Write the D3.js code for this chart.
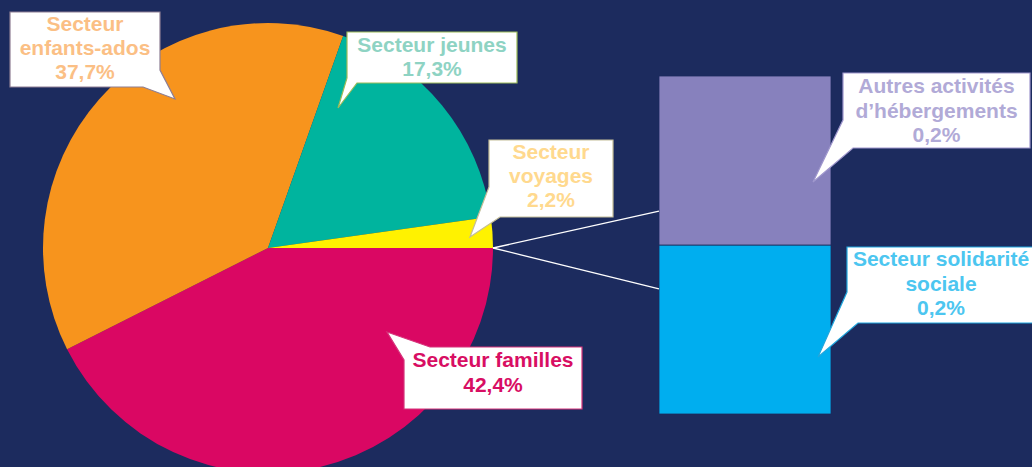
<!DOCTYPE html>
<html>
<head>
<meta charset="utf-8">
<script src="https://cdn.jsdelivr.net/npm/d3@7"></script>
<style>
  html, body { margin: 0; padding: 0; background: #1C2B5E; }
  svg { display: block; }
  text { font-family: "Liberation Sans", Arial, sans-serif; font-weight: bold; font-size: 21px; }
</style>
</head>
<body>
<svg id="chart" width="1032" height="467"></svg>
<script>
// ---- data ----
const pieCategories = ["Secteur familles", "Secteur enfants-ados", "Secteur jeunes", "Secteur voyages"];
const pieValues = [42.4, 37.7, 17.3, 2.2];
const barCategories = ["Secteur solidarité sociale", "Autres activités d’hébergements"];
const barValues = [0.2, 0.2];
const pieLabelLines = [["Secteur familles"], ["Secteur", "enfants-ados"], ["Secteur jeunes"], ["Secteur", "voyages"]];
const barLabelLines = [["Secteur solidarité", "sociale"], ["Autres activités", "d’hébergements"]];

// ---- styles ----
const pieColors = ["#DA0763", "#F7941D", "#00B49E", "#FFF200"];
const pieTextColors = ["#D80E63", "#FBBF85", "#8ED3C3", "#FFD98E"];
const pieBorderColors = ["#D6337A", "#8E7E93", "#9BBB59", "#C4BD97"];
const barColors = ["#00AEEF", "#8781BD"];
const barTextColors = ["#4CC6F0", "#B1AAD7"];
const barBorderColors = ["#1FA6DD", "#9F97CD"];

// ---- layout ----
const cx = 268, cy = 248, R = 225;
const barX0 = 659, barX1 = 831, barTop = 76, barBottom = 414;
const connFrac = [0.4, 0.63];

const fmt = v => d3.format(".1f")(v).replace(".", ",") + "%";

const svg = d3.select("#chart");
svg.append("rect").attr("width", 1032).attr("height", 467).attr("fill", "#1C2B5E");

// pie
const pie = d3.pie().sort(null).startAngle(Math.PI / 2).endAngle(Math.PI / 2 + 2 * Math.PI);
const arcs = pie(pieValues);
const arc = d3.arc().innerRadius(0).outerRadius(R);
const g = svg.append("g").attr("transform", `translate(${cx},${cy})`);
g.selectAll("path").data(arcs).join("path")
  .attr("d", arc)
  .attr("fill", (d, i) => pieColors[i]);

// bar (stacked)
const y = d3.scaleLinear().domain([0, d3.sum(barValues)]).range([barBottom, barTop]);
const stack = [];
let acc = 0;
barValues.forEach((v, i) => { stack.push({ v0: acc, v1: acc + v, i }); acc += v; });
svg.selectAll("rect.bar").data(stack).join("rect")
  .attr("class", "bar")
  .attr("x", barX0)
  .attr("width", barX1 - barX0)
  .attr("y", d => y(d.v1))
  .attr("height", d => y(d.v0) - y(d.v1))
  .attr("fill", d => barColors[d.i])
  .attr("stroke", "#1C2B5E").attr("stroke-width", 0.8);

// connector lines
const rim = [cx + R * Math.sin(Math.PI / 2), cy - R * Math.cos(Math.PI / 2)];
connFrac.forEach(f => {
  svg.append("line")
    .attr("x1", rim[0]).attr("y1", rim[1])
    .attr("x2", barX0).attr("y2", barTop + f * (barBottom - barTop))
    .attr("stroke", "#FFFFFF").attr("stroke-width", 1.3);
});

// callouts
function callout(o) {
  const { x0, y0, x1, y1, corner, pa, pb, tip } = o;
  let pts;
  if (corner === "br") {
    pts = [[x0, y0], [x1, y0], [x1, pb], tip, [pa, y1], [x0, y1]];
  } else if (corner === "bl") {
    pts = [[x0, y0], [x1, y0], [x1, y1], [pb, y1], tip, [x0, pa]];
  } else { // tl
    pts = [[pa, y0], [x1, y0], [x1, y1], [x0, y1], [x0, pb], tip];
  }
  svg.append("path")
    .attr("d", d3.line()(pts) + "Z")
    .attr("fill", "#FFFFFF")
    .attr("stroke", o.border).attr("stroke-width", 1.2);
  const t = svg.append("text").attr("text-anchor", "middle").attr("fill", o.color);
  o.lines.forEach((l, k) => {
    t.append("tspan").attr("x", (x0 + x1) / 2).attr("y", o.base + k * o.lh).text(l);
  });
}

const pieCallouts = [
  { x0: 404, y0: 347, x1: 582, y1: 409, corner: "tl", pa: 430, pb: 360, tip: [387, 332], base: 367, lh: 25 },
  { x0: 10, y0: 12, x1: 160, y1: 87, corner: "br", pa: 143, pb: 70, tip: [175, 99], base: 31, lh: 24 },
  { x0: 347, y0: 32, x1: 517, y1: 83, corner: "bl", pa: 78, pb: 357, tip: [338, 108], base: 52, lh: 24 },
  { x0: 489, y0: 140, x1: 613, y1: 217, corner: "bl", pa: 187, pb: 500, tip: [470, 237], base: 159, lh: 24 }
];
pieCallouts.forEach((c, i) => {
  callout(Object.assign({}, c, {
    lines: pieLabelLines[i].concat([fmt(pieValues[i])]),
    color: pieTextColors[i], border: pieBorderColors[i]
  }));
});

const barCallouts = [
  { x0: 847, y0: 247, x1: 1035, y1: 323, corner: "bl", pa: 292, pb: 858, tip: [818, 357], base: 266, lh: 24.5 },
  { x0: 843, y0: 73, x1: 1030, y1: 148, corner: "bl", pa: 120, pb: 853, tip: [813, 182], base: 93, lh: 24.5 }
];
barCallouts.forEach((c, i) => {
  callout(Object.assign({}, c, {
    lines: barLabelLines[i].concat([fmt(barValues[i])]),
    color: barTextColors[i], border: barBorderColors[i]
  }));
});
</script>
</body>
</html>
